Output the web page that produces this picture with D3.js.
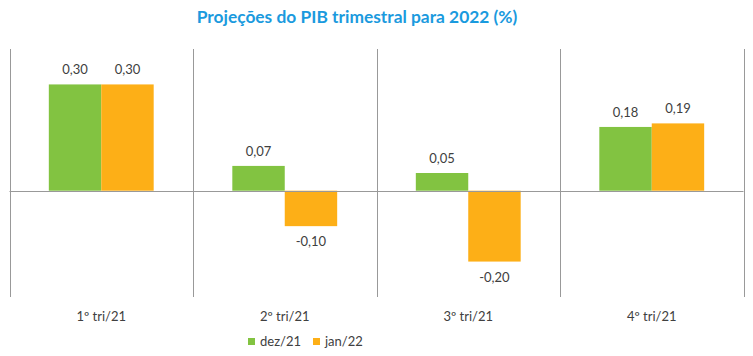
<!DOCTYPE html>
<html><head><meta charset="utf-8">
<script src="https://cdn.jsdelivr.net/npm/d3@7"></script>
<style>body{margin:0;background:#fff}svg{display:block}</style>
</head><body>
<svg id="c" width="753" height="356"></svg>
<script>
const categories = ["1º tri/21", "2º tri/21", "3º tri/21", "4º tri/21"];
const seriesNames = ["dez/21", "jan/22"];
const dez21 = [0.30, 0.07, 0.05, 0.18];
const jan22 = [0.30, -0.10, -0.20, 0.19];
const colors = ["#82c341", "#fdaf17"];
const title = "Projeções do PIB trimestral para 2022 (%)";

(function () {
const svg = d3.select("#c");
const font = "Lato, 'Open Sans', sans-serif";
const pL = 9.5, pR = 743.5, pT = 49, pB = 297;

const x = d3.scaleBand().domain(categories).range([pL, pR]).padding(0);
const xs = d3.scaleBand().domain(seriesNames).range([0, x.bandwidth()]).paddingInner(0).paddingOuter(0.75);
const y = d3.scaleLinear().domain([-0.3, 0.4]).range([pB, pT]);

const data = categories.map((c, i) => ({cat: c, vals: [dez21[i], jan22[i]]}));

const bounds = categories.map(c => x(c)).concat([x(categories[categories.length-1]) + x.bandwidth()]);
svg.append("g").selectAll("line").data(bounds).join("line")
  .attr("x1", d => Math.round(d) + 0.5).attr("x2", d => Math.round(d) + 0.5)
  .attr("y1", pT).attr("y2", pB)
  .attr("stroke", "#999").attr("stroke-width", 1);

const g = svg.append("g").selectAll("g").data(data).join("g")
  .attr("transform", d => `translate(${x(d.cat)},0)`);
g.selectAll("rect").data(d => d.vals.map((v, j) => ({v, s: seriesNames[j], j}))).join("rect")
  .attr("x", d => xs(d.s)).attr("width", xs.bandwidth())
  .attr("y", d => y(Math.max(0, d.v))).attr("height", d => Math.abs(y(d.v) - y(0)))
  .attr("fill", d => colors[d.j]);
g.selectAll("text").data(d => d.vals.map((v, j) => ({v, s: seriesNames[j], j}))).join("text")
  .attr("x", d => xs(d.s) + xs.bandwidth() / 2)
  .attr("y", d => d.v >= 0 ? y(d.v) - 10 : y(d.v) + 20)
  .attr("text-anchor", "middle").attr("font-family", font).attr("font-size", 13)
  .attr("fill", "#404040")
  .text(d => d3.format(".2f")(d.v).replace(".", ",").replace("−", "-"));

svg.append("line").attr("x1", pL).attr("x2", pR)
  .attr("y1", Math.round(y(0)) + 0.5).attr("y2", Math.round(y(0)) + 0.5)
  .attr("stroke", "#999").attr("stroke-width", 1);

svg.append("g").selectAll("text").data(categories).join("text")
  .attr("x", d => x(d) + x.bandwidth() / 2).attr("y", 321)
  .attr("text-anchor", "middle").attr("font-family", font).attr("font-size", 13)
  .attr("fill", "#404040").text(d => d);

const legX = [248, 313];
const lg = svg.append("g").selectAll("g").data(seriesNames).join("g")
  .attr("transform", (d, i) => `translate(${legX[i]},338)`);
lg.append("rect").attr("width", 7).attr("height", 7).attr("fill", (d, i) => colors[i]);
lg.append("text").attr("x", 12).attr("y", 8).attr("font-family", font).attr("font-size", 13)
  .attr("fill", "#404040").text(d => d);

const t = svg.append("text").attr("x", 357).attr("y", 23).attr("text-anchor", "middle")
  .attr("font-family", font).attr("font-weight", "bold").attr("font-size", 17)
  .attr("fill", "#1a9ade").text(title);
const w = t.node().getComputedTextLength();
t.attr("font-size", 17 * 321 / w);
})();
</script>
</body></html>
